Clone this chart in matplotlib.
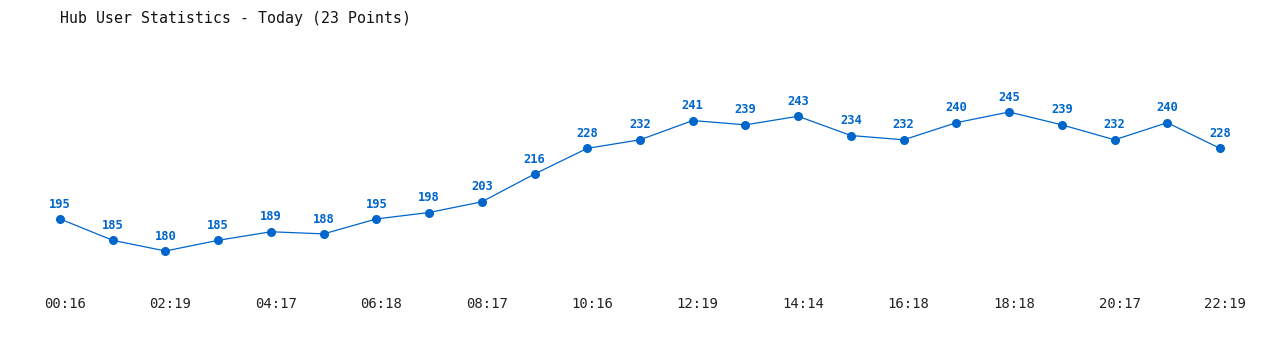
import matplotlib.pyplot as plt
import matplotlib.transforms as mtransforms
import numpy as np

plt.rcParams['font.family'] = ['DejaVu Sans Mono']

# user counts over the day
values = [195, 185, 180, 185, 189, 188, 195, 198, 203, 216, 228, 232,
          241, 239, 243, 234, 232, 240, 245, 239, 232, 240, 228]
tick_labels = ['00:16', '02:19', '04:17', '06:18', '08:17', '10:16',
               '12:19', '14:14', '16:18', '18:18', '20:17', '22:19']

blue = '#0066cc'
x = np.arange(len(values))

fig = plt.figure(figsize=(12.8, 3.5), dpi=100)
ax = fig.add_axes([60/1280, 1-251/350, 1160/1280, 139/350])
ax.plot(x, values, color=blue, lw=0.9, marker='o', ms=5.5, clip_on=False)
for xi, v in zip(x, values):
    ax.annotate(str(v), (xi, v), xytext=(0, 6), textcoords='offset points',
                ha='center', va='bottom', fontsize=8.7, fontweight='bold',
                color=blue)

ax.set_xlim(0, 22)
ax.set_ylim(180, 245)
ax.set_xticks(x[::2])
ax.set_xticklabels(tick_labels)
ax.tick_params(axis='x', length=0, pad=33, labelsize=10, labelcolor='#222222')
# labels sit a few pixels right of their points
shift = mtransforms.ScaledTranslation(5/100, 0, fig.dpi_scale_trans)
for lbl in ax.get_xticklabels():
    lbl.set_transform(lbl.get_transform() + shift)
ax.set_yticks([])
for s in ax.spines.values():
    s.set_visible(False)

fig.text(60/1280, 1-18/350, 'Hub User Statistics - Today (23 Points)',
         fontsize=10.7, va='center', ha='left', color='#111111')

fig.savefig('out.png', dpi=100)
